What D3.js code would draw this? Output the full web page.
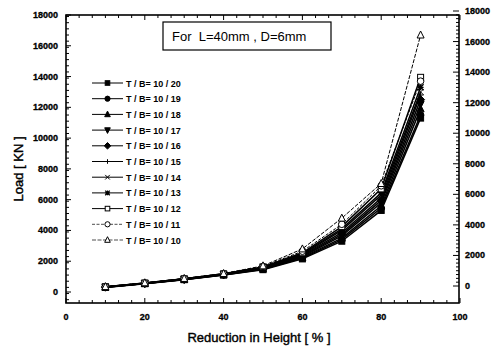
<!DOCTYPE html>
<html>
<head>
<meta charset="utf-8">
<script src="https://cdn.jsdelivr.net/npm/d3@7"></script>
<style>
  body { margin: 0; background: #fff; }
  text { font-family: "Liberation Sans", Arial, sans-serif; fill: #000; }
</style>
</head>
<body>
<div id="chart"></div>
<script>
// reduction in height [%]
const reduction = [10, 20, 30, 40, 50, 60, 70, 80, 90];

// legend names, in legend order
const seriesNames = [
  'T / B= 10 / 20', 'T / B= 10 / 19', 'T / B= 10 / 18', 'T / B= 10 / 17',
  'T / B= 10 / 16', 'T / B= 10 / 15', 'T / B= 10 / 14', 'T / B= 10 / 13',
  'T / B= 10 / 12', 'T / B= 10 / 11', 'T / B= 10 / 10',
];

// load [KN] per series
const load_10_20 = [300, 540, 800, 1100, 1450, 2150, 3300, 5300, 11300];
const load_10_19 = [305, 545, 805, 1110, 1470, 2200, 3400, 5450, 11500];
const load_10_18 = [310, 550, 815, 1120, 1490, 2250, 3500, 5600, 11900];
const load_10_17 = [315, 555, 820, 1130, 1510, 2300, 3650, 5800, 12200];
const load_10_16 = [320, 560, 830, 1140, 1530, 2350, 3750, 5950, 12500];
const load_10_15 = [325, 565, 840, 1150, 1550, 2400, 3850, 6100, 12800];
const load_10_14 = [330, 570, 845, 1160, 1570, 2450, 4000, 6300, 13000];
const load_10_13 = [335, 575, 855, 1170, 1600, 2500, 4100, 6450, 13300];
const load_10_12 = [340, 585, 860, 1180, 1630, 2550, 4250, 6700, 13950];
const load_10_11 = [345, 590, 870, 1190, 1660, 2650, 4400, 6900, 13700];
const load_10_10 = [350, 600, 880, 1200, 1700, 2800, 4800, 7050, 16700];

const seriesValues = [
  load_10_20, load_10_19, load_10_18, load_10_17, load_10_16, load_10_15,
  load_10_14, load_10_13, load_10_12, load_10_11, load_10_10,
];

const xTicks = [0, 20, 40, 60, 80, 100];
const yTicks = [0, 2000, 4000, 6000, 8000, 10000, 12000, 14000, 16000, 18000];

const noteText = 'For  L=40mm , D=6mm';
const xTitle = 'Reduction in Height [ % ]';
const yTitle = 'Load [ KN ]';

// marker types, same order as series
const markers = [
  'square-f', 'circle-f', 'tri-f', 'tridown-f', 'diamond-f', 'plus',
  'cross', 'star', 'square-o', 'circle-o', 'tri-o',
];

const width = 498;
const height = 348;
const frame = { left: 66, right: 459, top: 15, bottom: 303 };

const svg = d3.select('#chart')
  .append('svg')
  .attr('width', width)
  .attr('height', height);

const x = d3.scaleLinear().domain([0, 100]).range([66, 460]);
const y = d3.scaleLinear().domain([0, 18000]).range([292, 15]);
const yRight = d3.scaleLinear().domain([0, 18000]).range([286, 11]);

// frame
svg.append('rect')
  .attr('x', frame.left)
  .attr('y', frame.top)
  .attr('width', frame.right - frame.left)
  .attr('height', frame.bottom - frame.top)
  .attr('fill', 'none')
  .attr('stroke', '#000')
  .attr('stroke-width', 1.6);

// ticks (all pointing inwards)
const xMinor = d3.range(0, 100.01, 20 / 6);
const yMinor = d3.range(-500, 18001, 400);
const yMinorR = d3.range(0, 18001, 250);
const gTicks = svg.append('g').attr('stroke', '#000');

xMinor.forEach((v) => {
  const major = xTicks.some((t) => Math.abs(t - v) < 0.01);
  const len = major ? 5 : 3;
  gTicks.append('line')
    .attr('x1', x(v)).attr('x2', x(v))
    .attr('y1', frame.bottom).attr('y2', frame.bottom - len);
  gTicks.append('line')
    .attr('x1', x(v)).attr('x2', x(v))
    .attr('y1', frame.top).attr('y2', frame.top + len);
});

yMinor.filter((v) => y(v) <= frame.bottom && y(v) >= frame.top).forEach((v) => {
  gTicks.append('line')
    .attr('x1', frame.left).attr('x2', frame.left + 3)
    .attr('y1', y(v)).attr('y2', y(v));
});
yTicks.forEach((v) => {
  gTicks.append('line')
    .attr('x1', frame.left).attr('x2', frame.left + 5)
    .attr('y1', y(v)).attr('y2', y(v));
});

yMinorR.forEach((v) => {
  const major = v % 2000 === 0;
  gTicks.append('line')
    .attr('x1', frame.right).attr('x2', frame.right - (major ? 6 : 3))
    .attr('y1', yRight(v)).attr('y2', yRight(v));
});

// tick labels
const tickFont = (sel) => sel
  .style('font-size', '9px')
  .style('font-weight', 'bold')
  .attr('stroke', '#000')
  .attr('stroke-width', 0.3);

svg.append('g')
  .selectAll('text')
  .data(xTicks)
  .join('text')
  .attr('x', (d) => x(d))
  .attr('y', 320)
  .attr('text-anchor', 'middle')
  .call(tickFont)
  .text((d) => d);

svg.append('g')
  .selectAll('text')
  .data(yTicks)
  .join('text')
  .attr('x', 58)
  .attr('y', (d) => y(d) + 3)
  .attr('text-anchor', 'end')
  .call(tickFont)
  .text((d) => d);

svg.append('g')
  .selectAll('text')
  .data(yTicks)
  .join('text')
  .attr('x', 465)
  .attr('y', (d) => yRight(d) + 3)
  .attr('text-anchor', 'start')
  .call(tickFont)
  .text((d) => d);

// axis titles
svg.append('text')
  .attr('x', 259)
  .attr('y', 342)
  .attr('text-anchor', 'middle')
  .style('font-size', '13px')
  .attr('stroke', '#000')
  .attr('stroke-width', 0.4)
  .text(xTitle);

svg.append('text')
  .attr('transform', 'translate(23,169) rotate(-90)')
  .attr('text-anchor', 'middle')
  .style('font-size', '13px')
  .attr('stroke', '#000')
  .attr('stroke-width', 0.4)
  .text(yTitle);

// note box
svg.append('rect')
  .attr('x', 163).attr('y', 22)
  .attr('width', 168).attr('height', 28)
  .attr('fill', '#fff')
  .attr('stroke', '#000')
  .attr('stroke-width', 1.2);
svg.append('text')
  .attr('x', 172).attr('y', 41)
  .style('font-size', '13px')
  .style('white-space', 'pre')
  .text(noteText);

// marker drawing
function drawMarker(g, type, cx, cy, s) {
  const filled = type.endsWith('-f');
  const fill = filled ? '#000' : '#fff';
  const base = type.replace(/-[fo]$/, '');
  if (base === 'square') {
    g.append('rect').attr('x', cx - s).attr('y', cy - s)
      .attr('width', 2 * s).attr('height', 2 * s)
      .attr('fill', fill).attr('stroke', '#000').attr('stroke-width', 1);
  } else if (base === 'circle') {
    g.append('circle').attr('cx', cx).attr('cy', cy).attr('r', s + 0.3)
      .attr('fill', fill).attr('stroke', '#000').attr('stroke-width', 1);
  } else if (base === 'tri') {
    g.append('path')
      .attr('d', `M${cx},${cy - s - 1}L${cx + s + 0.5},${cy + s}L${cx - s - 0.5},${cy + s}Z`)
      .attr('fill', fill).attr('stroke', '#000').attr('stroke-width', 1);
  } else if (base === 'tridown') {
    g.append('path')
      .attr('d', `M${cx},${cy + s + 1}L${cx + s + 0.5},${cy - s}L${cx - s - 0.5},${cy - s}Z`)
      .attr('fill', fill).attr('stroke', '#000').attr('stroke-width', 1);
  } else if (base === 'diamond') {
    g.append('path')
      .attr('d', `M${cx},${cy - s - 1}L${cx + s + 1},${cy}L${cx},${cy + s + 1}L${cx - s - 1},${cy}Z`)
      .attr('fill', fill).attr('stroke', '#000').attr('stroke-width', 1);
  } else if (base === 'plus') {
    g.append('path')
      .attr('d', `M${cx - s},${cy}H${cx + s}M${cx},${cy - s}V${cy + s}`)
      .attr('stroke', '#000').attr('stroke-width', 1);
  } else if (base === 'cross') {
    g.append('path')
      .attr('d', `M${cx - s},${cy - s}L${cx + s},${cy + s}M${cx - s},${cy + s}L${cx + s},${cy - s}`)
      .attr('stroke', '#000').attr('stroke-width', 1);
  } else if (base === 'star') {
    g.append('path')
      .attr('d', `M${cx - s},${cy - s}L${cx + s},${cy + s}M${cx - s},${cy + s}L${cx + s},${cy - s}M${cx - s},${cy}H${cx + s}M${cx},${cy - s}V${cy + s}`)
      .attr('stroke', '#000').attr('stroke-width', 1.3);
  }
}

// series lines and markers
const line = d3.line()
  .x((d, i) => x(reduction[i]))
  .y((d) => y(d));

const dashes = [null, null, null, null, null, null, null, null, null, '3,1.5', '4,1.5'];

const gSeries = svg.append('g').attr('class', 'g-series');
seriesValues.forEach((vals, k) => {
  gSeries.append('path')
    .attr('d', line(vals))
    .attr('fill', 'none')
    .attr('stroke', '#000')
    .attr('stroke-width', k < 9 ? 1.5 : 1)
    .attr('stroke-dasharray', dashes[k]);
});
seriesValues.forEach((vals, k) => {
  const g = gSeries.append('g');
  vals.forEach((v, i) => drawMarker(g, markers[k], x(reduction[i]), y(v), 3));
});

// legend
const legendY = d3.scalePoint()
  .domain(seriesNames)
  .range([83, 240]);

const gLegend = svg.append('g').attr('class', 'legend');
seriesNames.forEach((name, k) => {
  const ly = legendY(name);
  gLegend.append('line')
    .attr('x1', 92).attr('x2', 123)
    .attr('y1', ly).attr('y2', ly)
    .attr('stroke', '#000')
    .attr('stroke-width', k < 9 ? 1 : 0.7)
    .attr('stroke-dasharray', dashes[k]);
  drawMarker(gLegend, markers[k], 107.5, ly, 2.3);
  gLegend.append('text')
    .attr('x', 126)
    .attr('y', ly + 3.5)
    .style('font-size', '9px')
    .style('font-weight', 'bold')
    .text(name);
});
</script>
</body>
</html>
